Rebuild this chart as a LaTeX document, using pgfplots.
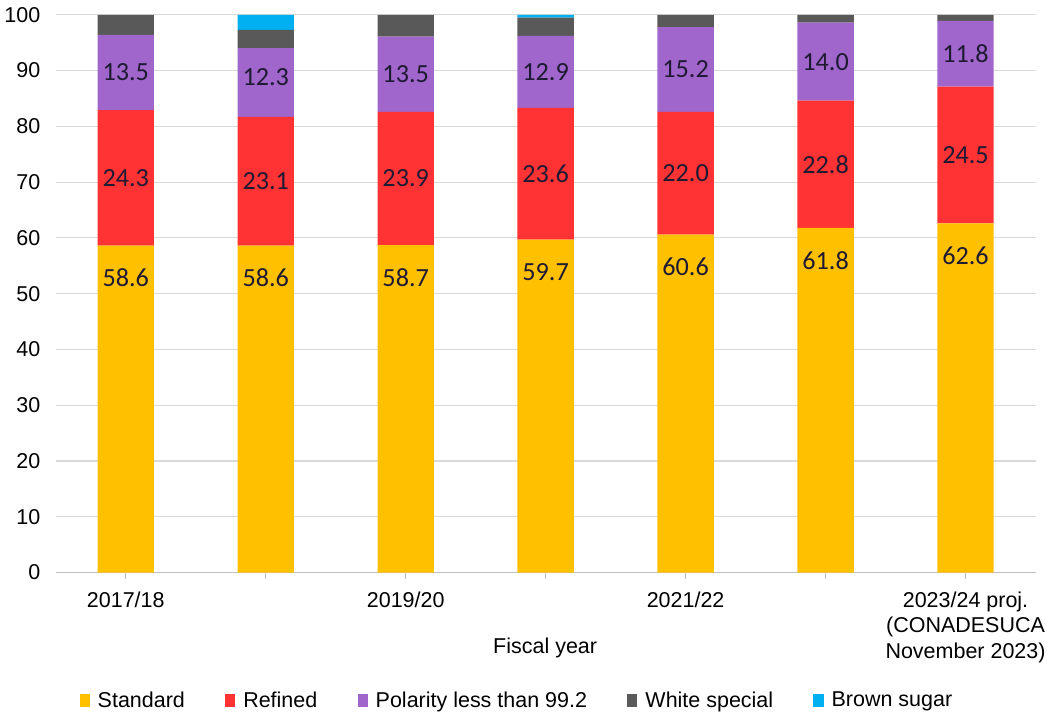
\documentclass[border=0pt]{standalone}
\usepackage{pgfplots}
\pgfplotsset{compat=1.18}
\usepackage{fontspec}
\setmainfont{Liberation Sans}
\newfontfamily\calibri{Carlito}
\definecolor{cStd}{HTML}{FFC000}
\definecolor{cRef}{HTML}{FF3333}
\definecolor{cPol}{HTML}{A066CC}
\definecolor{cWhi}{HTML}{595959}
\definecolor{cBro}{HTML}{00B0F0}
\definecolor{cLab}{HTML}{1F1A33}
\definecolor{cGrid}{HTML}{D9D9D9}
\definecolor{cAx}{HTML}{BFBFBF}
\begin{document}
\begin{tikzpicture}
\pgfplotsset{
  common/.style={
    scale only axis, width=729.75pt, height=415.5pt,
    xmin=-0.5, xmax=6.5, ymin=0, ymax=100,
  },
  lab/.style={draw=none, mark=none, forget plot,
    nodes near coords, point meta=explicit symbolic,
    every node near coord/.append style={anchor=center, text=cLab, font=\calibri\fontsize{19.5}{20}\selectfont}},
}
\begin{axis}[common,
  ybar stacked, bar width=42pt,
  axis x line*=bottom, axis y line*=left,
  x axis line style={draw=cAx, line width=0.8pt},
  y axis line style={draw=none},
  ytick={0,10,...,100},
  ymajorgrids, grid style={draw=cGrid, line width=0.8pt},
  ytick style={draw=none},
  xtick={0,1,2,3,4,5,6},
  xticklabels={2017/18,,2019/20,,2021/22,,{2023/24 proj.\\(CONADESUCA\\November 2023)}},
  xtick style={draw=cAx, line width=0.8pt},
  tick align=outside, major tick length=5pt,
  xticklabel style={align=center, font=\fontsize{16}{18.75}\selectfont, yshift=-6pt},
  yticklabel style={font=\fontsize{16}{18}\selectfont, xshift=-3pt},
  /pgf/number format/assume math mode=true,
  xlabel={Fiscal year},
  xlabel style={font=\fontsize{16}{18}\selectfont, at={(axis description cs:0.4995,-0.135)}, anchor=center},
  legend style={at={(axis description cs:0.471,-0.229)}, anchor=center, draw=none,
    legend columns=-1, font=\fontsize{16}{18}\selectfont,
    /tikz/every odd column/.append style={column sep=4pt},
    /tikz/every even column/.append style={column sep=28pt}},
  legend image code/.code={\fill[#1,draw=none] (0pt,-5pt) rectangle (7.5pt,5pt);},
]
\addplot[fill=cStd, draw=none] coordinates {(0,58.6) (1,58.6) (2,58.7) (3,59.7) (4,60.6) (5,61.8) (6,62.6)};
\addplot[fill=cRef, draw=none] coordinates {(0,24.3) (1,23.1) (2,23.9) (3,23.6) (4,22.0) (5,22.8) (6,24.5)};
\addplot[fill=cPol, draw=none] coordinates {(0,13.5) (1,12.3) (2,13.5) (3,12.9) (4,15.2) (5,14.0) (6,11.8)};
\addplot[fill=cWhi, draw=none] coordinates {(0,3.6) (1,3.3) (2,3.9) (3,3.3) (4,2.2) (5,1.4) (6,1.1)};
\addplot[fill=cBro, draw=none] coordinates {(0,0) (1,2.7) (2,0) (3,0.5) (4,0) (5,0) (6,0)};
\legend{Standard,Refined,Polarity less than 99.2,White special,Brown sugar}
\end{axis}
\begin{axis}[common, hide axis]
\addplot[lab] coordinates {(0,52.8)[58.6] (1,52.8)[58.6] (2,52.9)[58.7] (3,53.9)[59.7] (4,54.8)[60.6] (5,56.0)[61.8] (6,56.8)[62.6]};
\addplot[lab] coordinates {(0,70.75)[24.3] (1,70.15)[23.1] (2,70.65)[23.9] (3,71.5)[23.6] (4,71.6)[22.0] (5,73.2)[22.8] (6,74.85)[24.5]};
\addplot[lab] coordinates {(0,89.65)[13.5] (1,88.85)[12.3] (2,89.35)[13.5] (3,89.75)[12.9] (4,90.2)[15.2] (5,91.6)[14.0] (6,93.0)[11.8]};
\end{axis}
\path (current axis.north) ++(0pt,11pt);
\end{tikzpicture}
\end{document}
